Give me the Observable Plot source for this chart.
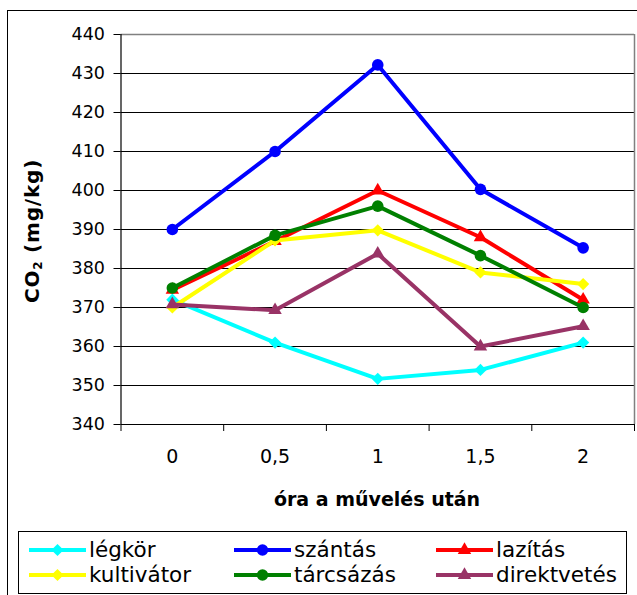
<!DOCTYPE html>
<html>
<head>
<meta charset="utf-8">
<script src="https://cdn.jsdelivr.net/npm/d3@7"></script>
<script src="https://cdn.jsdelivr.net/npm/@observablehq/plot@0.6"></script>
<style>
html, body { margin: 0; padding: 0; background: #fff; overflow: hidden; }
#wrap { position: relative; width: 637px; height: 595px; overflow: hidden; font-family: "DejaVu Sans", sans-serif; color: #000; }
#frame { position: absolute; left: 7px; top: 10px; width: 700px; height: 700px; border: 1.5px solid #000; }
#chart { position: absolute; left: 0; top: 0; }
.ytitle { position: absolute; left: 32px; top: 231px; transform: translate(-50%, -50%) rotate(-90deg); font-weight: bold; font-size: 20px; letter-spacing: 0.8px; white-space: nowrap; }
.xtitle { position: absolute; left: 377px; top: 499px; transform: translate(-50%, -50%); font-weight: bold; font-size: 19px; white-space: nowrap; }
.ytitle sub { font-size: 0.6em; vertical-align: baseline; position: relative; top: 0.25em; }
#legend { position: absolute; left: 18px; top: 531px; width: 607px; height: 61px; border: 1px solid #000; box-sizing: content-box; background: #fff; }
#legend .grid { display: grid; grid-template-columns: 205px 202px 190px; padding-left: 10px; padding-top: 5px; }
#legend .item { display: flex; align-items: center; height: 25px; font-size: 21.5px; white-space: nowrap; }
#legend svg { flex: none; margin-right: 3px; }
</style>
</head>
<body>
<div id="wrap">
  <div id="frame"></div>
  <div id="chart"></div>
  <div class="ytitle">CO<sub>2</sub> (mg/kg)</div>
  <div class="xtitle">óra a művelés után</div>
  <div id="legend"><div class="grid"></div></div>
</div>
<script>
// ---- data ----
const xLabels = ["0", "0,5", "1", "1,5", "2"];
const xValues = [0, 0.5, 1, 1.5, 2];
const yTicks = [340, 350, 360, 370, 380, 390, 400, 410, 420, 430, 440];
const seriesNames = ["légkör", "szántás", "lazítás", "kultivátor", "tárcsázás", "direktvetés"];
const legkor      = [372, 361, 351.7, 354, 361];
const szantas     = [390, 410, 432.2, 400.3, 385.3];
const lazitas     = [374.5, 387, 400, 388, 372];
const kultivator  = [370, 387.2, 389.8, 379, 376];
const tarcsazas   = [375, 388.5, 396, 383.3, 370];
const direktvetes = [370.8, 369.3, 383.8, 360, 365.2];

// ---- styles ----
const seriesValues = [legkor, szantas, lazitas, kultivator, tarcsazas, direktvetes];
const colors = ["#00FFFF", "#0000FF", "#FF0000", "#FFFF00", "#008000", "#993366"];
const symbols = ["diamond2", "circle", "triangle", "diamond2", "circle", "triangle"];
const radii = [5.5, 5.8, 5, 5.5, 5.8, 5];
const d3symbols = {diamond2: d3.symbolDiamond2, circle: d3.symbolCircle, triangle: d3.symbolTriangle};

const rows = [];
seriesNames.forEach((s, k) => {
  xValues.forEach((x, i) => rows.push({series: s, x, y: seriesValues[k][i]}));
});

const half = (xValues[1] - xValues[0]) / 2;
const xmin = xValues[0] - half, xmax = xValues[xValues.length - 1] + half;
const bounds = [xmin, ...xValues.map(v => v + half)];

const marks = [
  Plot.ruleY(yTicks.slice(0, -1), {stroke: "#000", strokeWidth: 1}),
  Plot.ruleY([yTicks[yTicks.length - 1]], {stroke: "#808080", strokeWidth: 1.5}),
  Plot.ruleX([xmax], {stroke: "#808080", strokeWidth: 1.5}),
  Plot.ruleX([xmin], {stroke: "#000", strokeWidth: 1.2}),
  Plot.axisY(yTicks, {tickSize: 7, tickPadding: 9, fontSize: 17.5, label: null, tickFormat: d => String(d)}),
  Plot.axisX(bounds, {tickSize: 7, tickFormat: () => "", label: null}),
  Plot.axisX(xValues, {tickSize: 0, tickPadding: 25, fontSize: 19, label: null, tickFormat: d => xLabels[xValues.indexOf(d)]})
];
seriesNames.forEach((s, k) => {
  const data = rows.filter(r => r.series === s);
  marks.push(Plot.line(data, {x: "x", y: "y", stroke: colors[k], strokeWidth: 4}));
  marks.push(Plot.dot(data, {x: "x", y: "y", fill: colors[k], symbol: symbols[k], r: radii[k]}));
});

const chart = Plot.plot({
  width: 637,
  height: 520,
  marginLeft: 120.5,
  marginRight: 3,
  marginTop: 34,
  marginBottom: 96,
  x: {domain: [xmin, xmax]},
  y: {domain: [yTicks[0], yTicks[yTicks.length - 1]]},
  style: {fontFamily: "DejaVu Sans", color: "#000", background: "transparent", overflow: "visible"},
  marks
});
document.getElementById("chart").appendChild(chart);

// ---- legend ----
const grid = document.querySelector("#legend .grid");
seriesNames.forEach((s, k) => {
  const item = document.createElement("div");
  item.className = "item";
  const svg = d3.create("svg").attr("width", 57).attr("height", 16);
  svg.append("line").attr("x1", 0).attr("x2", 57).attr("y1", 8).attr("y2", 8)
    .attr("stroke", colors[k]).attr("stroke-width", 4);
  svg.append("path").attr("transform", "translate(28.5,8)")
    .attr("d", d3.symbol(d3symbols[symbols[k]], Math.PI * radii[k] * radii[k])())
    .attr("fill", colors[k]);
  item.appendChild(svg.node());
  const t = document.createElement("span");
  t.textContent = s;
  item.appendChild(t);
  grid.appendChild(item);
});
</script>
</body>
</html>
